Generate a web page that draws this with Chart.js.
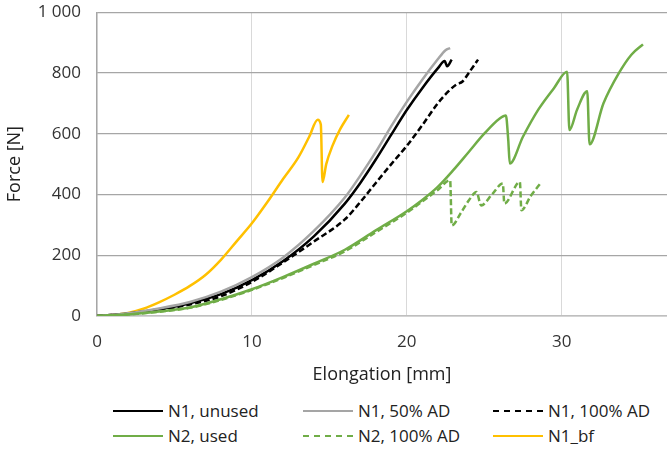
<!DOCTYPE html>
<html>
<head>
<meta charset="utf-8">
<script src="https://cdn.jsdelivr.net/npm/chart.js@4"></script>
<style>
  body { margin: 0; background: #fff; }
  #wrap { position: relative; width: 667px; height: 456px; font-family: "Open Sans", sans-serif; overflow: hidden; }
  #box { position: absolute; left: 0; top: -14px; width: 667px; height: 404px; }
  #legend { position: absolute; left: 113px; top: 399px; display: grid;
    grid-template-columns: 190px 190px 180px; row-gap: 2px; font-size: 17px; color: #222; }
  .item { display: flex; align-items: center; height: 23px; white-space: nowrap; }
  .swatch { width: 50px; height: 0; margin-right: 5px; border-top-width: 2.5px; }
</style>
</head>
<body>
<div id="wrap">
  <div id="box"><canvas id="chart"></canvas></div>
  <div id="legend"></div>
</div>
<script>
// values: elongation [mm] / force [N]
const n1UnusedX = [0, 2, 4, 6, 8, 10, 12, 14, 16, 17, 18, 19, 20, 21, 22, 22.45, 22.6, 22.9]
const n1UnusedY = [0, 8, 22, 42, 72, 118, 180, 262, 370, 438, 515, 597, 678, 750, 815, 839, 822, 844]

const n1Ad50X = [0, 2, 4, 6, 8, 10, 12, 14, 16, 17, 18, 19, 20, 21, 22, 22.5, 22.8]
const n1Ad50Y = [0, 9, 25, 46, 80, 128, 192, 280, 390, 462, 540, 625, 705, 778, 845, 875, 882]

const n1Ad100X = [0, 2, 4, 6, 8, 10, 12, 14, 16, 17, 18, 19, 20, 21, 22, 22.7, 23.2, 23.6, 24, 24.6]
const n1Ad100Y = [0, 7, 20, 38, 65, 112, 176, 245, 318, 375, 438, 500, 560, 628, 700, 740, 762, 772, 800, 844]

const n2UsedX = [0, 2, 4, 6, 8, 10, 12, 14, 16, 18, 20, 21, 22, 23, 24, 25, 26, 26.4, 26.55, 26.65,
  27.5, 28.5, 29.5, 30.35, 30.5, 31, 31.65, 31.8, 32.7, 33.7, 34.5, 35.25]
const n2UsedY = [0, 5, 15, 28, 55, 88, 128, 172, 218, 282, 345, 382, 425, 480, 540, 600, 650, 660, 580, 502,
  590, 680, 750, 804, 612, 680, 740, 565, 700, 800, 860, 894]

const n2Ad100X = [0, 2, 4, 6, 8, 10, 12, 14, 16, 18, 20, 21, 22, 22.8, 22.9, 23.5, 24, 24.5, 24.8,
  25.5, 26.2, 26.3, 27.3, 27.4, 28, 28.7]
const n2Ad100Y = [0, 5, 14, 27, 53, 86, 125, 168, 213, 276, 340, 377, 415, 447, 298, 340, 380, 408, 364,
  400, 436, 370, 441, 348, 395, 441]

const n1BfX = [0, 1, 2, 3, 4, 5, 6, 7, 8, 9, 10, 11, 12, 13, 13.7, 14.25, 14.45, 14.56, 14.8, 15.2, 15.7, 16.26]
const n1BfY = [0, 3, 10, 24, 45, 70, 99, 135, 185, 245, 305, 375, 450, 522, 590, 646, 630, 441, 500, 560, 615, 662]

const xTicks = [0, 10, 20, 30]
const yTicks = [0, 200, 400, 600, 800, 1000]

const pts = (xs, ys) => xs.map((x, i) => ({ x: x, y: ys[i] }))

const series = [
  { label: 'N1, unused', data: pts(n1UnusedX, n1UnusedY), color: '#000000', dash: [] },
  { label: 'N1, 50% AD', data: pts(n1Ad50X, n1Ad50Y), color: '#a5a5a5', dash: [] },
  { label: 'N1, 100% AD', data: pts(n1Ad100X, n1Ad100Y), color: '#000000', dash: [6, 3] },
  { label: 'N2, used', data: pts(n2UsedX, n2UsedY), color: '#70ad47', dash: [] },
  { label: 'N2, 100% AD', data: pts(n2Ad100X, n2Ad100Y), color: '#70ad47', dash: [6, 3] },
  { label: 'N1_bf', data: pts(n1BfX, n1BfY), color: '#ffc000', dash: [] }
]

// draw order: green first, black/gray on top like the picture
const drawOrder = [3, 4, 1, 0, 2, 5]

const font = { family: '"Open Sans", sans-serif', size: 17 }

new Chart(document.getElementById('chart'), {
  type: 'scatter',
  data: {
    datasets: series.map((s, i) => ({
      label: s.label,
      data: s.data,
      showLine: true,
      borderColor: s.color,
      backgroundColor: s.color,
      borderDash: s.dash,
      borderWidth: 2.5,
      pointRadius: 0,
      cubicInterpolationMode: 'monotone',
      order: drawOrder.indexOf(i)
    }))
  },
  options: {
    responsive: true,
    maintainAspectRatio: false,
    animation: false,
    layout: { padding: 0 },
    plugins: { legend: { display: false }, tooltip: { enabled: false } },
    scales: {
      x: {
        type: 'linear',
        min: 0,
        max: 36.8,
        afterBuildTicks: s => { s.ticks = xTicks.map(v => ({ value: v })) },
        afterFit: s => { s.height = 74 },
        grid: { color: '#d9d9d9', lineWidth: 1, drawTicks: false },
        border: { color: '#bfbfbf', width: 1.5 },
        ticks: { font: font, color: '#333', padding: 16 },
        title: { display: true, text: 'Elongation [mm]', font: { family: font.family, size: 18 }, color: '#222', padding: { top: 6 } }
      },
      y: {
        min: 0,
        max: 1000,
        afterBuildTicks: s => { s.ticks = yTicks.map(v => ({ value: v })) },
        afterFit: s => { s.width = 97 },
        grid: { color: '#a6a6a6', lineWidth: 1.2, drawTicks: false },
        border: { color: '#a6a6a6', width: 1.2 },
        ticks: { font: font, color: '#333', padding: 16, callback: v => v === 1000 ? '1 000' : v },
        title: { display: true, text: 'Force [N]', font: { family: font.family, size: 18 }, color: '#222', padding: { bottom: 8 } }
      }
    }
  }
})

const legend = document.getElementById('legend')
series.forEach(s => {
  const item = document.createElement('div')
  item.className = 'item'
  const sw = document.createElement('span')
  sw.className = 'swatch'
  sw.style.borderTopColor = s.color
  sw.style.borderTopStyle = s.dash.length ? 'dashed' : 'solid'
  item.appendChild(sw)
  item.appendChild(document.createTextNode(s.label))
  legend.appendChild(item)
})
</script>
</body>
</html>
